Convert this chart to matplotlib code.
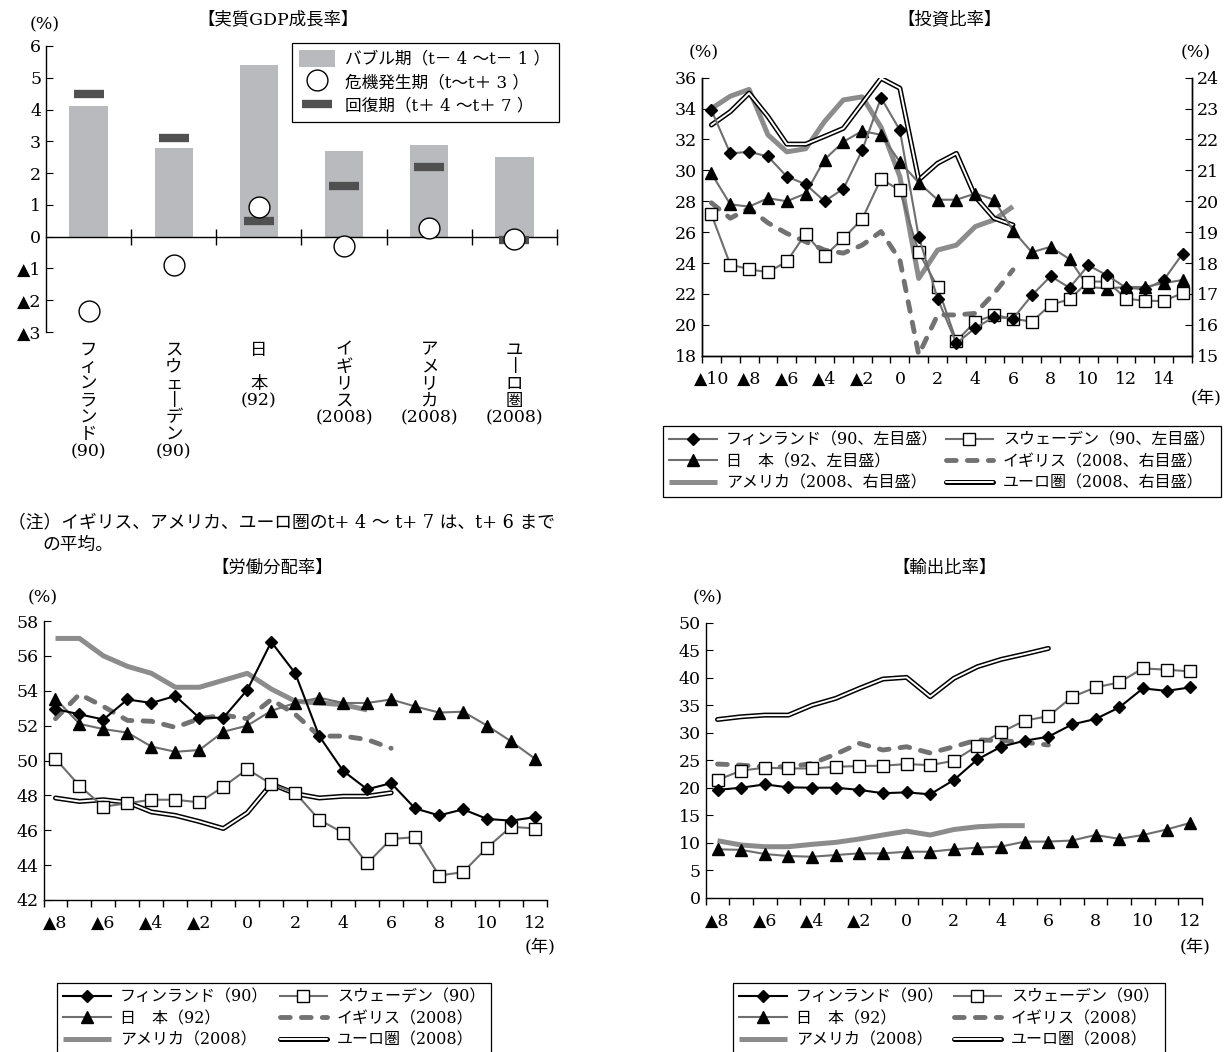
import matplotlib
matplotlib.use('Agg')
import matplotlib.pyplot as plt
import matplotlib.patheffects as pe
from matplotlib.lines import Line2D
from matplotlib.patches import Patch

plt.rcParams['font.family'] = ['DejaVu Serif', 'Noto Sans CJK JP', 'DejaVu Sans']
plt.rcParams['axes.linewidth'] = 1.0

# ---- 実質GDP成長率 ----
gdp_labels = ['フ\nィ\nン\nラ\nン\nド\n(90)', 'ス\nウ\nェ\n丨\nデ\nン\n(90)', '日\n\n本\n(92)',
              'イ\nギ\nリ\nス\n(2008)', 'ア\nメ\nリ\nカ\n(2008)', 'ユ\n丨\nロ\n圏\n(2008)']
gdp_bubble = [4.1, 2.8, 5.4, 2.7, 2.9, 2.5]
gdp_crisis = [-2.35, -0.9, 0.93, -0.3, 0.28, -0.08]
gdp_recovery = [4.5, 3.1, 0.5, 1.6, 2.2, -0.1]

# ---- 投資比率 ----
inv_years = list(range(-10, 16))
inv_fin = [33.9, 31.1, 31.2, 30.9, 29.6, 29.1, 28.0, 28.8, 31.3, 34.7, 32.6, 25.7, 21.7, 18.8,
           19.8, 20.5, 20.4, 21.9, 23.15, 22.4, 23.85, 23.2, 22.4, 22.3, 22.9, 24.6]
inv_jpn = [29.8, 27.8, 27.65, 28.2, 28.0, 28.5, 30.7, 31.85, 32.55, 32.3, 30.55, 29.2, 28.1, 28.1,
           28.5, 28.1, 26.1, 24.7, 25.05, 24.25, 22.45, 22.35, 22.45, 22.45, 22.7, 22.9]
inv_swe = [27.15, 23.9, 23.6, 23.4, 24.1, 25.9, 24.45, 25.6, 26.85, 29.45, 28.7, 24.7, 22.45, 18.95,
           20.2, 20.63, 20.4, 20.2, 21.3, 21.65, 22.8, 22.8, 21.7, 21.55, 21.55, 22.05]
inv_years_08 = list(range(-10, 7))
inv_uk = [19.95, 19.45, 19.77, 19.3, 18.96, 18.69, 18.42, 18.32, 18.58, 19.02, 18.1, 15.03,
          16.32, 16.32, 16.37, 17.02, 17.78]
inv_us = [23.0, 23.4, 23.62, 22.15, 21.6, 21.7, 22.58, 23.28, 23.38, 22.4, 20.8, 17.5,
          18.42, 18.58, 19.18, 19.4, 19.83]
inv_euro = [22.47, 22.9, 23.5, 22.74, 21.85, 21.85, 22.1, 22.36, 23.17, 23.98, 23.66, 20.69,
            21.23, 21.55, 20.15, 19.45, 19.23]

# ---- 労働分配率 ----
years = list(range(-8, 13))
lab_fin = [52.95, 52.65, 52.35, 53.5, 53.3, 53.7, 52.45, 52.45, 54.05, 56.8, 55.0, 51.4, 49.4,
           48.35, 48.7, 47.25, 46.85, 47.2, 46.65, 46.55, 46.75]
lab_jpn = [53.55, 52.1, 51.8, 51.6, 50.8, 50.5, 50.6, 51.65, 52.0, 52.85, 53.3, 53.6, 53.3,
           53.3, 53.5, 53.1, 52.75, 52.8, 52.0, 51.1, 50.1]
lab_swe = [50.1, 48.55, 47.35, 47.55, 47.75, 47.75, 47.6, 48.5, 49.5, 48.65, 48.15, 46.6, 45.85,
           44.1, 45.5, 45.6, 43.4, 43.6, 45.0, 46.2, 46.1]
years_08 = list(range(-8, 7))
years_us = list(range(-8, 6))
lab_uk = [52.4, 53.8, 53.1, 52.3, 52.25, 51.9, 52.4, 52.6, 52.4, 53.5, 52.65, 51.4, 51.4, 51.2, 50.7]
lab_us = [57.0, 57.0, 56.0, 55.4, 55.0, 54.2, 54.2, 54.6, 55.0, 54.1, 53.4, 53.3, 53.2, 52.9]
lab_euro = [47.85, 47.65, 47.75, 47.6, 47.05, 46.85, 46.5, 46.1, 47.0, 48.65, 48.1, 47.85, 47.95,
            47.95, 48.15]

# ---- 輸出比率 ----
exp_fin = [19.6, 20.0, 20.6, 20.06, 20.0, 20.0, 19.6, 19.0, 19.15, 18.8, 21.4, 25.15, 27.45,
           28.55, 29.27, 31.5, 32.5, 34.6, 38.06, 37.6, 38.24]
exp_swe = [21.4, 23.1, 23.64, 23.5, 23.5, 23.8, 23.94, 24.0, 24.3, 24.1, 24.9, 27.64, 30.1,
           32.2, 33.0, 36.5, 38.24, 39.15, 41.7, 41.45, 41.15]
exp_jpn = [8.8, 8.7, 7.94, 7.58, 7.45, 7.76, 8.06, 8.06, 8.36, 8.36, 8.8, 9.1, 9.3, 10.2, 10.2,
           10.4, 11.4, 10.7, 11.4, 12.4, 13.6]
exp_uk = [24.3, 24.1, 23.8, 23.8, 24.4, 26.1, 28.06, 26.85, 27.45, 26.3, 27.45, 28.7, 28.55,
          28.24, 27.76]
exp_us = [10.36, 9.58, 9.27, 9.27, 9.7, 10.06, 10.67, 11.4, 12.1, 11.4, 12.4, 12.9, 13.1, 13.1]
exp_euro = [32.4, 32.9, 33.2, 33.2, 35.0, 36.24, 38.06, 39.76, 40.06, 36.55, 39.88, 42.0, 43.33,
            44.3, 45.33]

GRAY = '#6e6e6e'
W, H = 1231, 1052
fig = plt.figure(figsize=(W / 100, H / 100), dpi=100)


def box(l, t, r, b):
    return [l / W, 1 - b / H, (r - l) / W, (b - t) / H]


def ftext(x, y, s, **kw):
    fig.text(x / W, 1 - y / H, s, **kw)


def yr(v):
    return f'▲{-v}' if v < 0 else f'{v}'


def year_axis(ax, first, last):
    ax.set_xlim(first - 0.5, last + 0.5)
    ev = [v for v in range(first, last + 1) if v % 2 == 0]
    ax.set_xticks(ev)
    ax.set_xticklabels([yr(v) for v in ev])
    ax.set_xticks([v + 0.5 for v in range(first - 1, last + 1)], minor=True)
    ax.tick_params(axis='x', which='major', length=0, pad=11, labelsize=12.5)
    ax.tick_params(axis='x', which='minor', length=5, direction='out', width=1)
    ax.tick_params(axis='y', direction='in', length=5, labelsize=12.5)
    ax.spines['top'].set_visible(False)


def add_legend(handles, labels, l, t, r, ncol=2, **kw):
    opts = dict(ncol=ncol, loc='upper left', bbox_to_anchor=(l / W, 1 - t / H, (r - l) / W, 0),
                mode='expand', borderaxespad=0, fontsize=11.5, frameon=True, fancybox=False,
                edgecolor='black', framealpha=1, handlelength=3.0, borderpad=0.35,
                labelspacing=0.28, handletextpad=0.6, columnspacing=2.2)
    opts.update(kw)
    leg = fig.legend(handles, labels, **opts)
    leg.get_frame().set_linewidth(0.9)
    return leg


fin_kw = dict(lw=1.5, marker='D', ms=5.8, mfc='black', mec='black')
jpn_kw = dict(color=GRAY, lw=1.5, marker='^', ms=8.5, mfc='black', mec='black')
swe_kw = dict(color=GRAY, lw=1.5, marker='s', ms=8, mfc='white', mec='black', mew=1)
uk_kw = dict(color='#727272', lw=3.5, dashes=(2.0, 2.3), dash_capstyle='round')
us_kw = dict(color='#8c8c8c', lw=3.6, solid_capstyle='butt')
euro_kw = dict(color='white', lw=1.4, solid_capstyle='round',
               path_effects=[pe.Stroke(linewidth=3.6, foreground='black'), pe.Normal()])

# ================= 実質GDP成長率 =================
ax1 = fig.add_axes(box(46, 46, 557, 332))
xc = list(range(len(gdp_bubble)))
ax1.bar(xc, gdp_bubble, width=0.45, color='#b9babd', zorder=1)
ax1.plot(xc, gdp_recovery, ls='none', marker='_', ms=22, mew=6, color='#505050', zorder=3)
ax1.plot(xc, gdp_crisis, ls='none', marker='o', ms=15, mfc='white', mec='black', mew=1, zorder=4)
ax1.set_xlim(-0.5, 5.5)
ax1.set_ylim(-3, 6)
ax1.spines['bottom'].set_position(('data', 0))
ax1.spines['top'].set_visible(False)
ax1.spines['right'].set_visible(False)
ax1.set_xticks([i + 0.5 for i in xc])
ax1.set_xticklabels([])
ax1.tick_params(axis='x', direction='inout', length=11, width=1)
ax1.set_yticks(range(-3, 7))
ax1.set_yticklabels([yr(v) for v in range(-3, 7)])
ax1.tick_params(axis='y', direction='in', length=5, labelsize=12.5)
for i, lab in enumerate(gdp_labels):
    ax1.text(i, -3.3, lab, ha='center', va='top', fontsize=12.5, linespacing=1.0)
h1 = [Patch(facecolor='#b9babd'),
      Line2D([], [], ls='none', marker='o', ms=15, mfc='white', mec='black', mew=1),
      Line2D([], [], ls='none', marker='_', ms=22, mew=6, color='#505050')]
add_legend(h1, ['バブル期（t－ 4 ～t－ 1 ）', '危機発生期（t～t＋ 3 ）', '回復期（t＋ 4 ～t＋ 7 ）'],
           292, 43, 559, ncol=1, fontsize=12, handlelength=2.2, handleheight=1.2,
           borderpad=0.4, labelspacing=0.32)
ftext(278, 20, '【実質GDP成長率】', ha='center', va='center', fontsize=12.5)
ftext(45, 25, '(%)', ha='center', va='center', fontsize=12.5)
ftext(8, 522, '（注）イギリス、アメリカ、ユーロ圏のt+ 4 ～ t+ 7 は、t+ 6 まで', va='center', fontsize=12.8)
ftext(42, 545, 'の平均。', va='center', fontsize=12.8)

# ================= 投資比率 =================
ax2 = fig.add_axes(box(702, 77.7, 1192, 355.7))
ax2r = ax2.twinx()
ax2.set_zorder(ax2r.get_zorder() + 1)
ax2.patch.set_visible(False)
l_us, = ax2r.plot(inv_years_08, inv_us, **us_kw)
l_uk, = ax2r.plot(inv_years_08, inv_uk, **uk_kw)
l_eu, = ax2r.plot(inv_years_08, inv_euro, **euro_kw)
l_jp, = ax2.plot(inv_years, inv_jpn, **jpn_kw)
l_sw, = ax2.plot(inv_years, inv_swe, **swe_kw)
l_fi, = ax2.plot(inv_years, inv_fin, color=GRAY, **fin_kw)
year_axis(ax2, -10, 15)
ax2.set_ylim(18, 36)
ax2.set_yticks(range(18, 37, 2))
ax2r.set_ylim(15, 24)
ax2r.set_yticks(range(15, 25))
ax2r.tick_params(axis='y', direction='in', length=5, labelsize=12.5)
ax2r.spines['top'].set_visible(False)
add_legend([l_fi, l_jp, l_us, l_sw, l_uk, l_eu],
           ['フィンランド（90、左目盛）', '日　本（92、左目盛）', 'アメリカ（2008、右目盛）',
            'スウェーデン（90、左目盛）', 'イギリス（2008、右目盛）', 'ユーロ圏（2008、右目盛）'],
           663, 426, 1221, columnspacing=1.3)
ftext(950, 20, '【投資比率】', ha='center', va='center', fontsize=12.5)
ftext(704, 53, '(%)', ha='center', va='center', fontsize=12.5)
ftext(1196, 53, '(%)', ha='center', va='center', fontsize=12.5)
ftext(1206, 398, '(年)', ha='center', va='center', fontsize=12.5)

# ================= 労働分配率 =================
ax3 = fig.add_axes(box(43.5, 621, 547, 900))
b_us, = ax3.plot(years_us, lab_us, **us_kw)
b_uk, = ax3.plot(years_08, lab_uk, **uk_kw)
b_eu, = ax3.plot(years_08, lab_euro, **euro_kw)
b_jp, = ax3.plot(years, lab_jpn, **jpn_kw)
b_sw, = ax3.plot(years, lab_swe, **swe_kw)
b_fi, = ax3.plot(years, lab_fin, color='black', **fin_kw)
year_axis(ax3, -8, 12)
ax3.spines['right'].set_visible(False)
ax3.set_ylim(42, 58)
ax3.set_yticks(range(42, 59, 2))
bottom_labels = ['フィンランド（90）', '日　本（92）', 'アメリカ（2008）',
                 'スウェーデン（90）', 'イギリス（2008）', 'ユーロ圏（2008）']
add_legend([b_fi, b_jp, b_us, b_sw, b_uk, b_eu], bottom_labels, 57, 983, 491)
ftext(272, 568, '【労働分配率】', ha='center', va='center', fontsize=12.5)
ftext(43, 598, '(%)', ha='center', va='center', fontsize=12.5)
ftext(540, 947, '(年)', ha='center', va='center', fontsize=12.5)

# ================= 輸出比率 =================
ax4 = fig.add_axes(box(705.7, 622.7, 1202, 897.7))
ax4.plot(years_us, exp_us, **us_kw)
ax4.plot(years_08, exp_uk, **uk_kw)
ax4.plot(years_08, exp_euro, **euro_kw)
ax4.plot(years, exp_jpn, **jpn_kw)
ax4.plot(years, exp_swe, **swe_kw)
ax4.plot(years, exp_fin, color='black', **fin_kw)
year_axis(ax4, -8, 12)
ax4.spines['right'].set_visible(False)
ax4.set_ylim(0, 50)
ax4.set_yticks(range(0, 51, 5))
add_legend([b_fi, b_jp, b_us, b_sw, b_uk, b_eu], bottom_labels, 733, 983, 1165)
ftext(945, 568, '【輸出比率】', ha='center', va='center', fontsize=12.5)
ftext(708, 598, '(%)', ha='center', va='center', fontsize=12.5)
ftext(1195, 947, '(年)', ha='center', va='center', fontsize=12.5)

fig.savefig('out.png', dpi=100, facecolor='white')
